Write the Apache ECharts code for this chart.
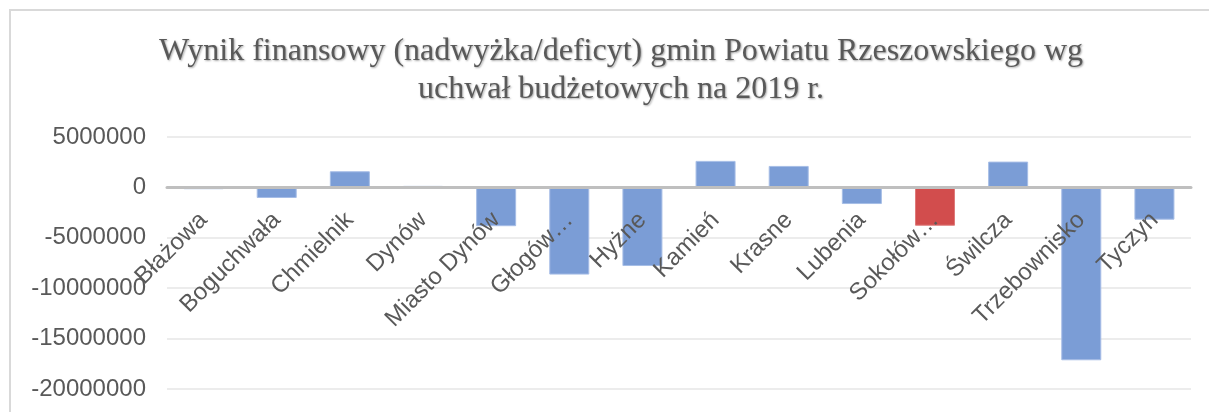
<!DOCTYPE html>
<html>
<head>
<meta charset="utf-8">
<script src="https://cdn.jsdelivr.net/npm/echarts@6/dist/echarts.min.js"></script>
<style>
    html, body { margin: 0; padding: 0; background: #fff; }
    #chart { width: 1209px; height: 412px; }
</style>
</head>
<body>
<div id="chart"></div>
<script>
// gminy (etykiety jak na wykresie, skrócone)
const categories = ['Błażowa', 'Boguchwała', 'Chmielnik', 'Dynów', 'Miasto Dynów', 'Głogów…', 'Hyżne',
    'Kamień', 'Krasne', 'Lubenia', 'Sokołów…', 'Świlcza', 'Trzebownisko', 'Tyczyn']
// wynik finansowy w zł
const values = [-180000, -1050000, 1600000, 150000, -3850000, -8650000, -7800000,
    2630000, 2130000, -1650000, -3800000, 2560000, -17150000, -3200000]
const yTicks = [-20000000, -15000000, -10000000, -5000000, 0, 5000000]
const highlighted = 'Sokołów…'

const chart = echarts.init(document.getElementById('chart'))

const blue = '#7b9dd6'
const red = '#d24d4d'

const gridTop = 137
const gridBottom = 23
const plotHeight = 412 - gridTop - gridBottom
// odległość osi zerowej od dolnej krawędzi siatki (etykiety kategorii stoją przy zerze)
const zeroOffset = plotHeight * (0 - yTicks[0]) / (yTicks[yTicks.length - 1] - yTicks[0])

const option = {
    backgroundColor: '#fff',
    animation: false,
    title: {
        text: 'Wynik finansowy (nadwyżka/deficyt) gmin Powiatu Rzeszowskiego wg\nuchwał budżetowych na 2019 r.',
        left: 616,
        top: 28,
        textAlign: 'center',
        textStyle: {
            fontFamily: 'Liberation Serif',
            fontSize: 32,
            fontWeight: 'normal',
            lineHeight: 38,
            color: '#595959',
            textShadowColor: 'rgba(0,0,0,0.35)',
            textShadowOffsetX: 1,
            textShadowOffsetY: 1,
            textShadowBlur: 2
        }
    },
    // ramka wykresu (widoczna tylko z lewej i u góry)
    graphic: [
        {
            type: 'polyline',
            shape: { points: [[10, 412], [10, 10], [1209, 10]] },
            style: { stroke: '#d9d9d9', lineWidth: 2, fill: null }
        }
    ],
    grid: {
        left: 167,
        right: 18,
        top: gridTop,
        bottom: gridBottom,
        containLabel: false,
        outerBoundsMode: 'none'
    },
    xAxis: {
        type: 'category',
        data: categories,
        position: 'bottom',
        offset: -zeroOffset,
        axisLine: {
            show: true,
            onZero: false,
            lineStyle: { color: '#bfbfbf', width: 3 }
        },
        axisTick: { show: false },
        axisLabel: {
            rotate: 45,
            margin: 29,
            interval: 0,
            fontFamily: 'Liberation Sans',
            fontSize: 24,
            color: '#595959'
        },
        z: 10
    },
    yAxis: {
        type: 'value',
        min: yTicks[0],
        max: yTicks[yTicks.length - 1],
        interval: 5000000,
        axisLine: { show: false },
        axisTick: { show: false },
        splitLine: {
            lineStyle: { color: '#ececec', width: 2 }
        },
        axisLabel: {
            margin: 21,
            fontFamily: 'Liberation Sans',
            fontSize: 24,
            color: '#595959',
            formatter: v => String(v)
        }
    },
    series: [
        {
            type: 'bar',
            barWidth: 40,
            data: values.map((v, i) => ({
                value: v,
                itemStyle: {
                    color: categories[i] === highlighted ? red : blue,
                    borderColor: categories[i] === highlighted ? '#de7a7a' : '#a6bde6',
                    borderWidth: 1
                }
            }))
        }
    ]
}

chart.setOption(option)
</script>
</body>
</html>
